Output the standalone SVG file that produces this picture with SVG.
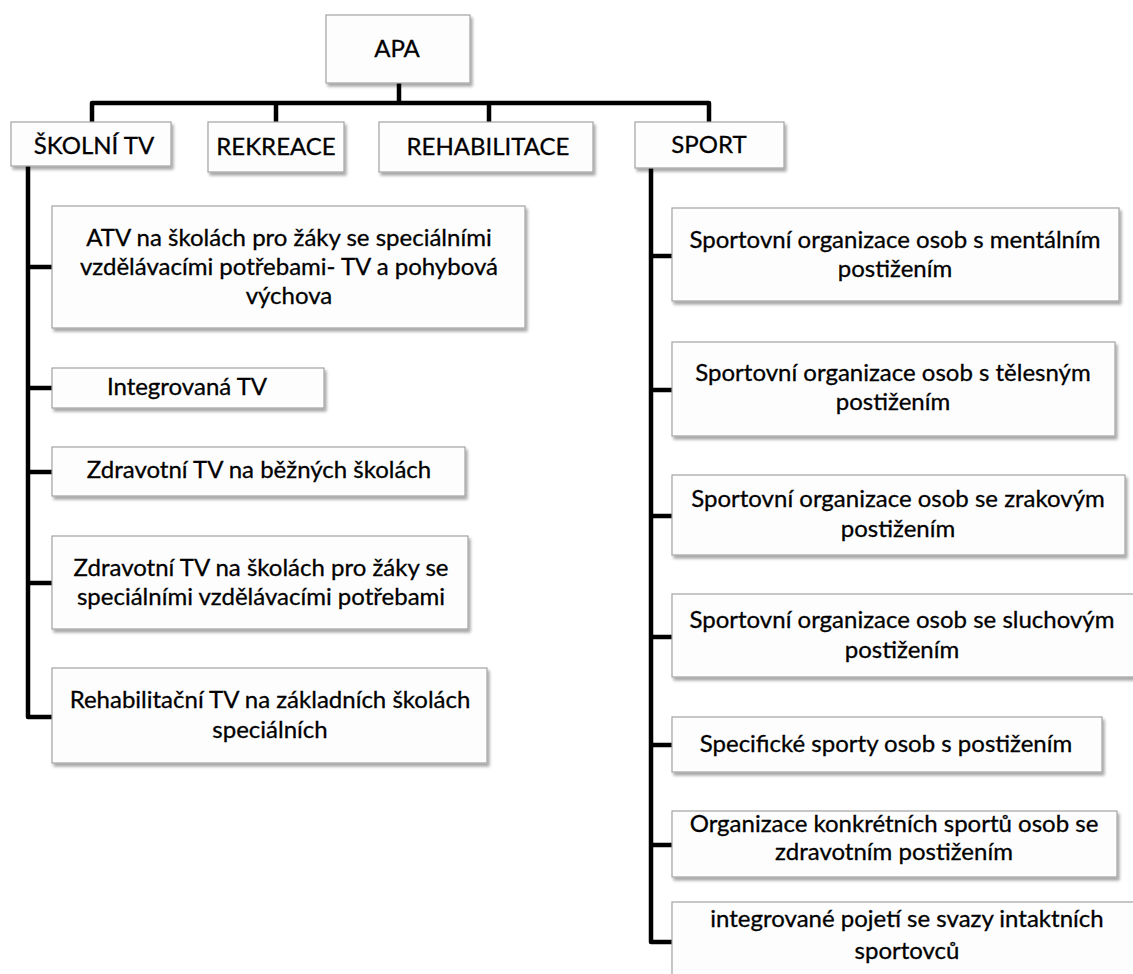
<svg xmlns="http://www.w3.org/2000/svg" width="1133" height="974" viewBox="0 0 1133 974">
<defs>
<filter id="sh" x="-5%" y="-10%" width="115%" height="130%">
<feDropShadow dx="2" dy="3" stdDeviation="1.5" flood-color="#000" flood-opacity="0.35"/>
</filter>
</defs>
<style>
.box{fill:#fdfdfd;stroke:#a3a3a3;stroke-width:1.2;filter:url(#sh)}
.t{font-family:Lato,"Open Sans",sans-serif;font-size:24px;fill:#000;stroke:#000;stroke-width:0.3;text-anchor:middle}
.c{fill:none;stroke:#000;stroke-width:4.5;stroke-linejoin:round;stroke-linecap:butt}
</style>
<rect width="1133" height="974" fill="#fff"/>
<g id="connectors">
<path class="c" d="M399,83 V103"/>
<path class="c" d="M92,122 V103 H709 V122"/>
<path class="c" d="M276,103 V122"/>
<path class="c" d="M489,103 V122"/>
<path class="c" d="M28,166 V717 H52"/>
<path class="c" d="M28,267 H52 M28,388 H52 M28,472 H52 M28,583 H52"/>
<path class="c" d="M651,168 V942 H672"/>
<path class="c" d="M651,256 H672 M651,390 H672 M651,516 H672 M651,637 H672 M651,745 H672 M651,845 H672"/>
</g>
<g id="apa"><rect class="box" x="326" y="15" width="144" height="68"/><text class="t" x="397" y="57">APA</text></g>
<g id="skolni"><rect class="box" x="11" y="122" width="160" height="44"/><text class="t" x="94" y="154">ŠKOLNÍ TV</text></g>
<g id="rekreace"><rect class="box" x="208" y="122" width="136" height="50"/><text class="t" x="276" y="155">REKREACE</text></g>
<g id="rehabilitace"><rect class="box" x="379" y="122" width="214" height="50"/><text class="t" x="488" y="155">REHABILITACE</text></g>
<g id="sport"><rect class="box" x="635" y="122" width="149" height="46"/><text class="t" x="709" y="153">SPORT</text></g>
<g id="atv"><rect class="box" x="52" y="206" width="473" height="122"/><text class="t" x="289" y="246">ATV na školách pro žáky se speciálními</text><text class="t" x="289" y="275">vzdělávacími potřebami- TV a pohybová</text><text class="t" x="289" y="304">výchova</text></g>
<g id="integrovana"><rect class="box" x="52" y="368" width="272" height="40"/><text class="t" x="187" y="395">Integrovaná TV</text></g>
<g id="zdrav1"><rect class="box" x="52" y="447" width="413" height="49"/><text class="t" x="259" y="478">Zdravotní TV na běžných školách</text></g>
<g id="zdrav2"><rect class="box" x="52" y="536" width="416" height="93"/><text class="t" x="261" y="576">Zdravotní TV na školách pro žáky se</text><text class="t" x="261" y="605">speciálními vzdělávacími potřebami</text></g>
<g id="rehab-tv"><rect class="box" x="52" y="668" width="435" height="95"/><text class="t" x="270" y="708">Rehabilitační TV na základních školách</text><text class="t" x="270" y="738">speciálních</text></g>
<g id="s1"><rect class="box" x="672" y="208" width="447" height="93"/><text class="t" x="895" y="248">Sportovní organizace osob s mentálním</text><text class="t" x="895" y="277">postižením</text></g>
<g id="s2"><rect class="box" x="672" y="342" width="443" height="94"/><text class="t" x="893" y="381">Sportovní organizace osob s tělesným</text><text class="t" x="893" y="410">postižením</text></g>
<g id="s3"><rect class="box" x="672" y="475" width="453" height="80"/><text class="t" x="898" y="507">Sportovní organizace osob se zrakovým</text><text class="t" x="898" y="537">postižením</text></g>
<g id="s4"><rect class="box" x="672" y="594" width="465" height="83"/><text class="t" x="902" y="628">Sportovní organizace osob se sluchovým</text><text class="t" x="902" y="658">postižením</text></g>
<g id="s5"><rect class="box" x="672" y="717" width="430" height="55"/><text class="t" x="886" y="752">Specifické sporty osob s postižením</text></g>
<g id="s6"><rect class="box" x="672" y="811" width="445" height="66"/><text class="t" x="894" y="832">Organizace konkrétních sportů osob se</text><text class="t" x="894" y="860">zdravotním postižením</text></g>
<g id="s7"><rect class="box" x="672" y="902" width="470" height="80"/><text class="t" x="907" y="927">integrované pojetí se svazy intaktních</text><text class="t" x="907" y="959">sportovců</text></g>
</svg>
